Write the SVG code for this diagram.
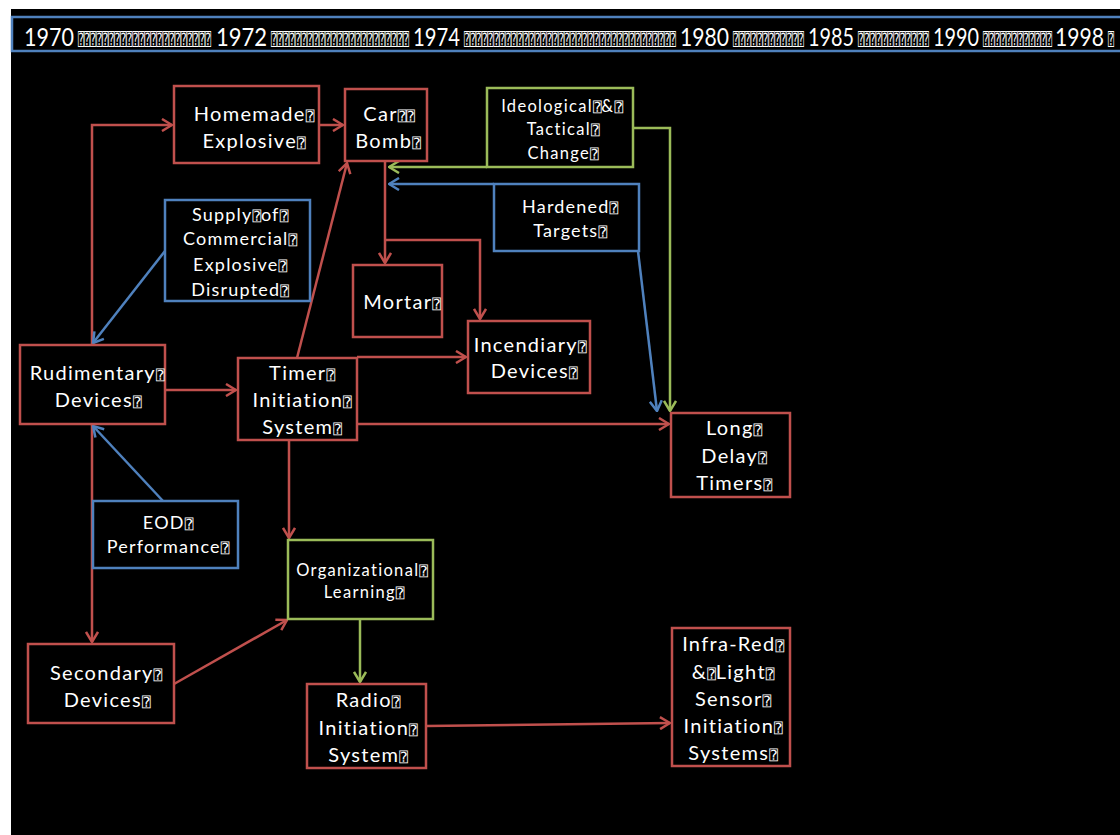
<svg xmlns="http://www.w3.org/2000/svg" width="1120" height="835" viewBox="0 0 1120 835">
<style>
.bg{fill:#000}
.r{fill:none;stroke:#C0504D;stroke-width:2.5}
.b{fill:none;stroke:#4F81BD;stroke-width:2.5}
.g{fill:none;stroke:#9BBB59;stroke-width:2.5}
text{font-family:Lato,"Open Sans",sans-serif;fill:#fff;text-anchor:middle}
.t19{font-size:20px;letter-spacing:1.3px}
.t17{font-size:18px;letter-spacing:1.2px}
.t16{font-size:16.5px;letter-spacing:1.3px}
.yr{font-size:20px;text-anchor:start}
.q{font-family:"DejaVu Sans Mono",monospace;font-size:14px;letter-spacing:0}
.qt{font-family:"DejaVu Sans Mono",monospace;font-size:10px;text-anchor:start}
</style>
<defs>
<marker id="ar" viewBox="0 0 12 14" refX="11" refY="7" markerWidth="12" markerHeight="14" markerUnits="userSpaceOnUse" orient="auto"><path d="M1,1 L11,7 L1,13" fill="none" stroke="#C0504D" stroke-width="2.5"/></marker>
<marker id="ab" viewBox="0 0 12 14" refX="11" refY="7" markerWidth="12" markerHeight="14" markerUnits="userSpaceOnUse" orient="auto"><path d="M1,1 L11,7 L1,13" fill="none" stroke="#4F81BD" stroke-width="2.5"/></marker>
<marker id="ag" viewBox="0 0 12 14" refX="11" refY="7" markerWidth="12" markerHeight="14" markerUnits="userSpaceOnUse" orient="auto"><path d="M1,1 L11,7 L1,13" fill="none" stroke="#9BBB59" stroke-width="2.5"/></marker>
</defs>
<rect x="0" y="0" width="1120" height="835" fill="#fff"/>
<rect class="bg" x="11" y="9" width="1109" height="826"/>
<g id="title">
<rect x="12" y="17" width="1112" height="34" class="b" stroke-width="2"/>
<g transform="translate(0,46) scale(1,1.25)">
<text class="yr" y="0"><tspan x="24" textLength="50" lengthAdjust="spacingAndGlyphs">1970</tspan><tspan x="216" textLength="51" lengthAdjust="spacingAndGlyphs">1972</tspan><tspan x="413" textLength="47" lengthAdjust="spacingAndGlyphs">1974</tspan><tspan x="680" textLength="49" lengthAdjust="spacingAndGlyphs">1980</tspan><tspan x="808" textLength="46" lengthAdjust="spacingAndGlyphs">1985</tspan><tspan x="933" textLength="46" lengthAdjust="spacingAndGlyphs">1990</tspan><tspan x="1055" textLength="49" lengthAdjust="spacingAndGlyphs">1998</tspan></text>
</g>
<g transform="translate(0,45) scale(1,1.7)">
<text class="qt" y="0"><tspan x="78" textLength="133" lengthAdjust="spacingAndGlyphs">⍰⍰⍰⍰⍰⍰⍰⍰⍰⍰⍰⍰⍰⍰⍰⍰⍰⍰⍰⍰⍰⍰</tspan><tspan x="271" textLength="138" lengthAdjust="spacingAndGlyphs">⍰⍰⍰⍰⍰⍰⍰⍰⍰⍰⍰⍰⍰⍰⍰⍰⍰⍰⍰⍰⍰⍰⍰</tspan><tspan x="464" textLength="212" lengthAdjust="spacingAndGlyphs">⍰⍰⍰⍰⍰⍰⍰⍰⍰⍰⍰⍰⍰⍰⍰⍰⍰⍰⍰⍰⍰⍰⍰⍰⍰⍰⍰⍰⍰⍰⍰⍰⍰⍰⍰⍰</tspan><tspan x="733" textLength="71" lengthAdjust="spacingAndGlyphs">⍰⍰⍰⍰⍰⍰⍰⍰⍰⍰⍰⍰</tspan><tspan x="858" textLength="71" lengthAdjust="spacingAndGlyphs">⍰⍰⍰⍰⍰⍰⍰⍰⍰⍰⍰⍰</tspan><tspan x="983" textLength="69" lengthAdjust="spacingAndGlyphs">⍰⍰⍰⍰⍰⍰⍰⍰⍰⍰⍰⍰</tspan><tspan x="1108" textLength="6" lengthAdjust="spacingAndGlyphs">⍰</tspan></text>
</g>
</g>
<g id="connectors">
<polyline class="r" points="92,345 92,125 172,125" marker-end="url(#ar)"/>
<line class="r" x1="92" y1="424" x2="92" y2="642" marker-end="url(#ar)"/>
<line class="r" x1="165" y1="390" x2="236" y2="390" marker-end="url(#ar)"/>
<line class="r" x1="319" y1="125" x2="343" y2="125" marker-end="url(#ar)"/>
<line class="r" x1="297" y1="358" x2="347" y2="163" marker-end="url(#ar)"/>
<line class="r" x1="385" y1="161" x2="385" y2="263" marker-end="url(#ar)"/>
<polyline class="r" points="385,240 480,240 480,319" marker-end="url(#ar)"/>
<line class="r" x1="357" y1="357" x2="466" y2="357" marker-end="url(#ar)"/>
<line class="r" x1="357" y1="424" x2="669" y2="424" marker-end="url(#ar)"/>
<line class="r" x1="289" y1="440" x2="289" y2="538" marker-end="url(#ar)"/>
<line class="r" x1="174" y1="684" x2="287" y2="620" marker-end="url(#ar)"/>
<line class="r" x1="426" y1="726" x2="670" y2="723" marker-end="url(#ar)"/>
<line class="g" x1="487" y1="167" x2="389" y2="167" marker-end="url(#ag)"/>
<polyline class="g" points="633,128 670,128 670,411" marker-end="url(#ag)"/>
<line class="g" x1="360" y1="619" x2="360" y2="682" marker-end="url(#ag)"/>
<line class="b" x1="494" y1="184" x2="389" y2="184" marker-end="url(#ab)"/>
<line class="b" x1="638" y1="251" x2="657" y2="411" marker-end="url(#ab)"/>
<line class="b" x1="165" y1="251" x2="93" y2="343" marker-end="url(#ab)"/>
<line class="b" x1="163" y1="501" x2="93" y2="426" marker-end="url(#ab)"/>
</g>
<g id="homemade">
<rect class="r" x="174" y="86" width="145" height="77"/>
<text class="t19" x="254" y="121">Homemade<tspan class="q">⍰</tspan></text>
<text class="t19" x="254" y="148">Explosive<tspan class="q">⍰</tspan></text>
</g>
<g id="carbomb">
<rect class="r" x="345" y="89" width="82" height="72"/>
<text class="t19" x="389" y="121">Car<tspan class="q">⍰⍰</tspan></text>
<text class="t19" x="388" y="148">Bomb<tspan class="q">⍰</tspan></text>
</g>
<g id="ideological">
<rect class="g" x="487" y="88" width="146" height="79"/>
<text class="t16" x="562" y="112">Ideological<tspan class="q">⍰</tspan>&amp;<tspan class="q">⍰</tspan></text>
<text class="t16" x="563" y="135">Tactical<tspan class="q">⍰</tspan></text>
<text class="t16" x="563" y="159">Change<tspan class="q">⍰</tspan></text>
</g>
<g id="hardened">
<rect class="b" x="494" y="184" width="145" height="67"/>
<text class="t17" x="570" y="213">Hardened<tspan class="q">⍰</tspan></text>
<text class="t17" x="570" y="237">Targets<tspan class="q">⍰</tspan></text>
</g>
<g id="supply">
<rect class="b" x="165" y="200" width="145" height="101"/>
<text class="t17" x="240" y="221">Supply<tspan class="q">⍰</tspan>of<tspan class="q">⍰</tspan></text>
<text class="t17" x="240" y="245">Commercial<tspan class="q">⍰</tspan></text>
<text class="t17" x="240" y="271">Explosive<tspan class="q">⍰</tspan></text>
<text class="t17" x="240" y="296">Disrupted<tspan class="q">⍰</tspan></text>
</g>
<g id="rudimentary">
<rect class="r" x="20" y="345" width="145" height="79"/>
<text class="t19" x="97" y="380">Rudimentary<tspan class="q">⍰</tspan></text>
<text class="t19" x="98" y="407">Devices<tspan class="q">⍰</tspan></text>
</g>
<g id="timer">
<rect class="r" x="238" y="358" width="119" height="82"/>
<text class="t19" x="302" y="380">Timer<tspan class="q">⍰</tspan></text>
<text class="t19" x="302" y="407">Initiation<tspan class="q">⍰</tspan></text>
<text class="t19" x="302" y="434">System<tspan class="q">⍰</tspan></text>
</g>
<g id="mortar">
<rect class="r" x="353" y="265" width="89" height="72"/>
<text class="t19" x="402" y="309">Mortar<tspan class="q">⍰</tspan></text>
</g>
<g id="incendiary">
<rect class="r" x="468" y="321" width="122" height="72"/>
<text class="t19" x="530" y="352">Incendiary<tspan class="q">⍰</tspan></text>
<text class="t19" x="534" y="378">Devices<tspan class="q">⍰</tspan></text>
</g>
<g id="longdelay">
<rect class="r" x="671" y="413" width="119" height="84"/>
<text class="t19" x="734" y="435">Long<tspan class="q">⍰</tspan></text>
<text class="t19" x="734" y="463">Delay<tspan class="q">⍰</tspan></text>
<text class="t19" x="734" y="490">Timers<tspan class="q">⍰</tspan></text>
</g>
<g id="eod">
<rect class="b" x="93" y="501" width="145" height="67"/>
<text class="t17" x="168" y="529">EOD<tspan class="q">⍰</tspan></text>
<text class="t17" x="168" y="553">Performance<tspan class="q">⍰</tspan></text>
</g>
<g id="organizational">
<rect class="g" x="288" y="540" width="145" height="79"/>
<text class="t16" x="362" y="576">Organizational<tspan class="q">⍰</tspan></text>
<text class="t16" x="364" y="598">Learning<tspan class="q">⍰</tspan></text>
</g>
<g id="secondary">
<rect class="r" x="28" y="644" width="146" height="79"/>
<text class="t19" x="106" y="680">Secondary<tspan class="q">⍰</tspan></text>
<text class="t19" x="107" y="707">Devices<tspan class="q">⍰</tspan></text>
</g>
<g id="radio">
<rect class="r" x="307" y="684" width="119" height="84"/>
<text class="t19" x="368" y="707">Radio<tspan class="q">⍰</tspan></text>
<text class="t19" x="368" y="735">Initiation<tspan class="q">⍰</tspan></text>
<text class="t19" x="368" y="762">System<tspan class="q">⍰</tspan></text>
</g>
<g id="infrared">
<rect class="r" x="672" y="628" width="118" height="138"/>
<text class="t19" x="733" y="651">Infra-Red<tspan class="q">⍰</tspan></text>
<text class="t19" x="733" y="679">&amp;<tspan class="q">⍰</tspan>Light<tspan class="q">⍰</tspan></text>
<text class="t19" x="733" y="706">Sensor<tspan class="q">⍰</tspan></text>
<text class="t19" x="733" y="733">Initiation<tspan class="q">⍰</tspan></text>
<text class="t19" x="733" y="760">Systems<tspan class="q">⍰</tspan></text>
</g>
</svg>
